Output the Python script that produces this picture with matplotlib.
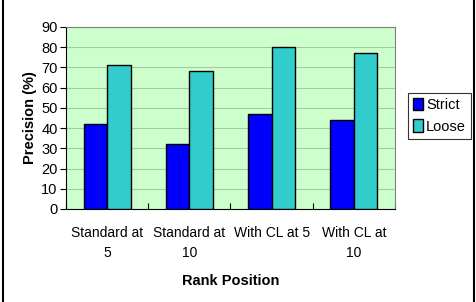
import matplotlib.pyplot as plt
import numpy as np

categories = ["Standard at\n5", "Standard at\n10", "With CL at 5", "With CL at\n10"]
strict = [42, 32, 47, 44]
loose = [71, 68, 80, 77]

plt.rcParams['font.family'] = ['Liberation Sans', 'DejaVu Sans']

fig = plt.figure(figsize=(4.76, 3.02), dpi=100)
ax = fig.add_axes([66 / 476, 1 - 209 / 302, 329 / 476, 182 / 302])

x = np.arange(len(categories))
w = 0.285
ax.bar(x - w / 2, strict, w, color='#0000FF', edgecolor='black', linewidth=1, label='Strict', zorder=3)
ax.bar(x + w / 2, loose, w, color='#33CCCC', edgecolor='black', linewidth=1, label='Loose', zorder=3)

ax.set_facecolor('#CCFFCC')
ax.set_xlim(-0.5, len(categories) - 0.5)
ax.set_ylim(0, 90)
ax.set_yticks(range(0, 91, 10))
ax.yaxis.grid(True, color='#a8c8a8', linewidth=0.8, zorder=0)

ax.set_xticks(np.arange(-0.5, len(categories), 1))
ax.set_xticklabels([])
ax.set_xticks(x, minor=True)
ax.set_xticklabels(categories, minor=True, fontsize=10, linespacing=1.6)
ax.tick_params(axis='x', which='minor', length=0, pad=12)
ax.tick_params(axis='x', which='major', length=4, direction='in', color='black')
ax.tick_params(axis='y', length=4, labelsize=10.5, pad=2)

for side in ['top', 'right']:
    ax.spines[side].set_color('#808080')
ax.spines['left'].set_color('black')
ax.spines['bottom'].set_color('black')

ax.set_ylabel('Precision (%)', fontsize=10.5, fontweight='bold', labelpad=3)
ax.set_xlabel('Rank Position', fontsize=10.5, fontweight='bold', labelpad=10)

leg = ax.legend(loc='upper left', bbox_to_anchor=(408 / 476, 1 - 93 / 302), bbox_transform=fig.transFigure,
                fontsize=10.5, frameon=True, fancybox=False, edgecolor='black', handlelength=0.7,
                handleheight=0.9, handletextpad=0.2, borderpad=0.35, labelspacing=0.5, borderaxespad=0)
leg.get_frame().set_linewidth(0.8)

fig.add_artist(plt.Line2D([2.5 / 476, 2.5 / 476], [0, 1], color='black', linewidth=1.5, transform=fig.transFigure))
fig.add_artist(plt.Line2D([473.5 / 476, 473.5 / 476], [0, 1], color='black', linewidth=1.5, transform=fig.transFigure))

fig.savefig('out.png', dpi=100)
